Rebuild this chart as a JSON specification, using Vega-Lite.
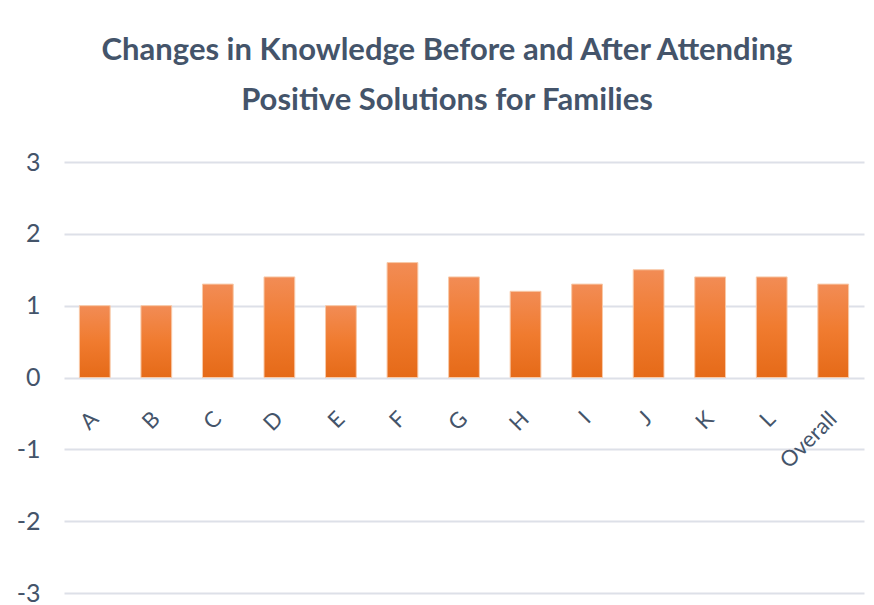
{
  "$schema": "https://vega.github.io/schema/vega-lite/v6.json",
  "width": 800,
  "height": 431,
  "autosize": {"type": "none"},
  "padding": {"left": 64, "top": 162, "right": 10, "bottom": 12},
  "background": "white",
  "title": {
    "text": ["Changes in Knowledge Before and After Attending", "Positive Solutions for Families"],
    "font": "Lato",
    "fontSize": 31,
    "fontWeight": "bold",
    "color": "#44546a",
    "lineHeight": 50,
    "anchor": "middle",
    "frame": "group",
    "dx": -17,
    "offset": 33
  },
  "config": {
    "view": {"stroke": null},
    "axis": {"labelFont": "Lato", "labelColor": "#44546a"}
  },
  "data": {
    "values": [
      {"item": "A", "value": 1.0},
      {"item": "B", "value": 1.0},
      {"item": "C", "value": 1.3},
      {"item": "D", "value": 1.4},
      {"item": "E", "value": 1.0},
      {"item": "F", "value": 1.6},
      {"item": "G", "value": 1.4},
      {"item": "H", "value": 1.2},
      {"item": "I", "value": 1.3},
      {"item": "J", "value": 1.5},
      {"item": "K", "value": 1.4},
      {"item": "L", "value": 1.4},
      {"item": "Overall", "value": 1.3}
    ]
  },
  "mark": {
    "type": "bar",
    "fill": {
      "gradient": "linear",
      "x1": 0, "y1": 0, "x2": 0, "y2": 1,
      "stops": [
        {"offset": 0, "color": "#f28c55"},
        {"offset": 0.5, "color": "#f07b2f"},
        {"offset": 1, "color": "#e56a18"}
      ]
    },
    "stroke": "#f8c9a8",
    "strokeWidth": 1
  },
  "encoding": {
    "x": {
      "field": "item",
      "type": "nominal",
      "sort": null,
      "scale": {"paddingInner": 0.5, "paddingOuter": 0.25},
      "axis": {
        "title": null,
        "orient": "bottom",
        "offset": -215,
        "domain": false,
        "ticks": false,
        "labelAngle": -45,
        "labelAlign": "right",
        "labelBaseline": "middle",
        "labelFontSize": 22,
        "labelPadding": 37
      }
    },
    "y": {
      "field": "value",
      "type": "quantitative",
      "scale": {"domain": [-3, 3], "nice": false, "zero": false},
      "axis": {
        "title": null,
        "values": [-3, -2, -1, 0, 1, 2, 3],
        "labelExpr": "'' + datum.value",
        "domain": false,
        "ticks": false,
        "labelFontSize": 25,
        "labelPadding": 24,
        "gridColor": "#dde0e8",
        "gridWidth": 2
      }
    }
  }
}
